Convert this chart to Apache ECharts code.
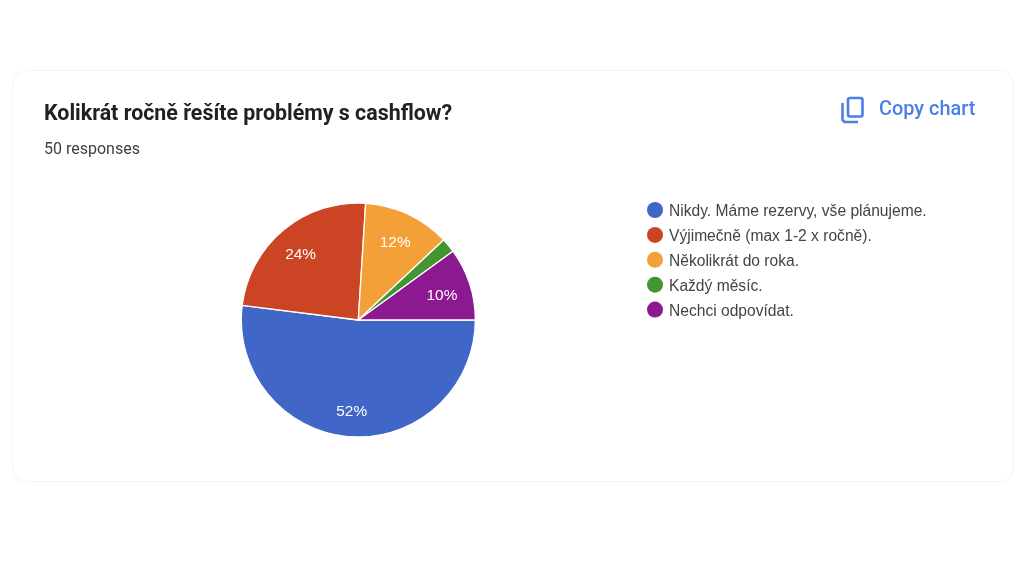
<!DOCTYPE html>
<html><head><meta charset="utf-8">
<style>html,body{margin:0;padding:0;background:#fff}#c{width:1030px;height:579px}</style>
<script src="https://cdn.jsdelivr.net/npm/echarts@6/dist/echarts.min.js"></script>
</head><body><div id="c"></div>
<script>
const categories = ['Nikdy. Máme rezervy, vše plánujeme.','Výjimečně (max 1-2 x ročně).','Několikrát do roka.','Každý měsíc.','Nechci odpovídat.'];
const responses = [26,12,6,1,5];
const colors = ['#4066c8','#cb4524','#f4a038','#43962f','#8c198f'];
const titleText = 'Kolikrát ročně řešíte problémy s cashflow?';
const subText = '50 responses';
const copyText = 'Copy chart';
const pieData = categories.map((name,i)=>({name,value:responses[i]}));
const chart = echarts.init(document.getElementById('c'),null,{renderer:'canvas'});
chart.setOption({
  animation:false,
  backgroundColor:'#fff',
  color:colors,
  title:[
    {text:titleText,left:44,top:104,padding:0,textStyle:{fontFamily:'Roboto',fontSize:21.4,fontWeight:'bold',color:'#202124'}},
    {text:subText,left:44,top:142,padding:0,textStyle:{fontFamily:'Roboto',fontSize:16,fontWeight:'normal',color:'#3c4043'}},
    {text:copyText,left:879,top:100,padding:0,textStyle:{fontFamily:'Roboto',fontSize:19.9,fontWeight:500,color:'#4a7fe8'}}
  ],
  legend:{
    orient:'vertical',left:647,top:202,padding:0,
    icon:'circle',itemWidth:16,itemHeight:16,itemGap:6.9,
    selectedMode:false,
    data:categories,
    formatter:name=>`{t|${name}}`,
    textStyle:{
      fontFamily:'Liberation Sans',fontSize:15.6,color:'#444',
      rich:{t:{fontFamily:'Liberation Sans',fontSize:15.6,color:'#444',padding:[4,0,0,1]}}
    },
    itemStyle:{borderWidth:0}
  },
  graphic:[
    {type:'rect',z:-1,shape:{x:12.5,y:70.5,width:1001,height:411,r:14},style:{fill:'#fff',stroke:'#f5f5f5',lineWidth:1.2}},
    {type:'rect',shape:{x:848,y:98,width:14.5,height:18.5,r:2},style:{fill:'none',stroke:'#4a7fe8',lineWidth:2.6}},
    {type:'polyline',shape:{points:[[842.5,103],[842.5,120],[844.5,122],[858,122]]},style:{fill:'none',stroke:'#4a7fe8',lineWidth:2.6}}
  ],
  series:[
    {type:'pie',radius:[0,117],center:[358.3,320],startAngle:0,clockwise:true,silent:true,
     data:pieData,label:{show:false},labelLine:{show:false},
     itemStyle:{borderColor:'#fff',borderWidth:1.3,borderCap:'butt'},emphasis:{disabled:true}},
    {type:'pie',radius:[55,117],center:[358.3,320],startAngle:0,clockwise:true,silent:true,
     legendHoverLink:false,
     data:pieData.map(d=>({...d,label:{show:d.value>=5}})),
     itemStyle:{color:'transparent'},
     label:{show:true,position:'inside',formatter:'{d}%',fontFamily:'Liberation Sans',fontSize:15.4,color:'#fff',offset:[-1,3]},
     labelLine:{show:false},emphasis:{disabled:true}}
  ]
});
</script></body></html>
